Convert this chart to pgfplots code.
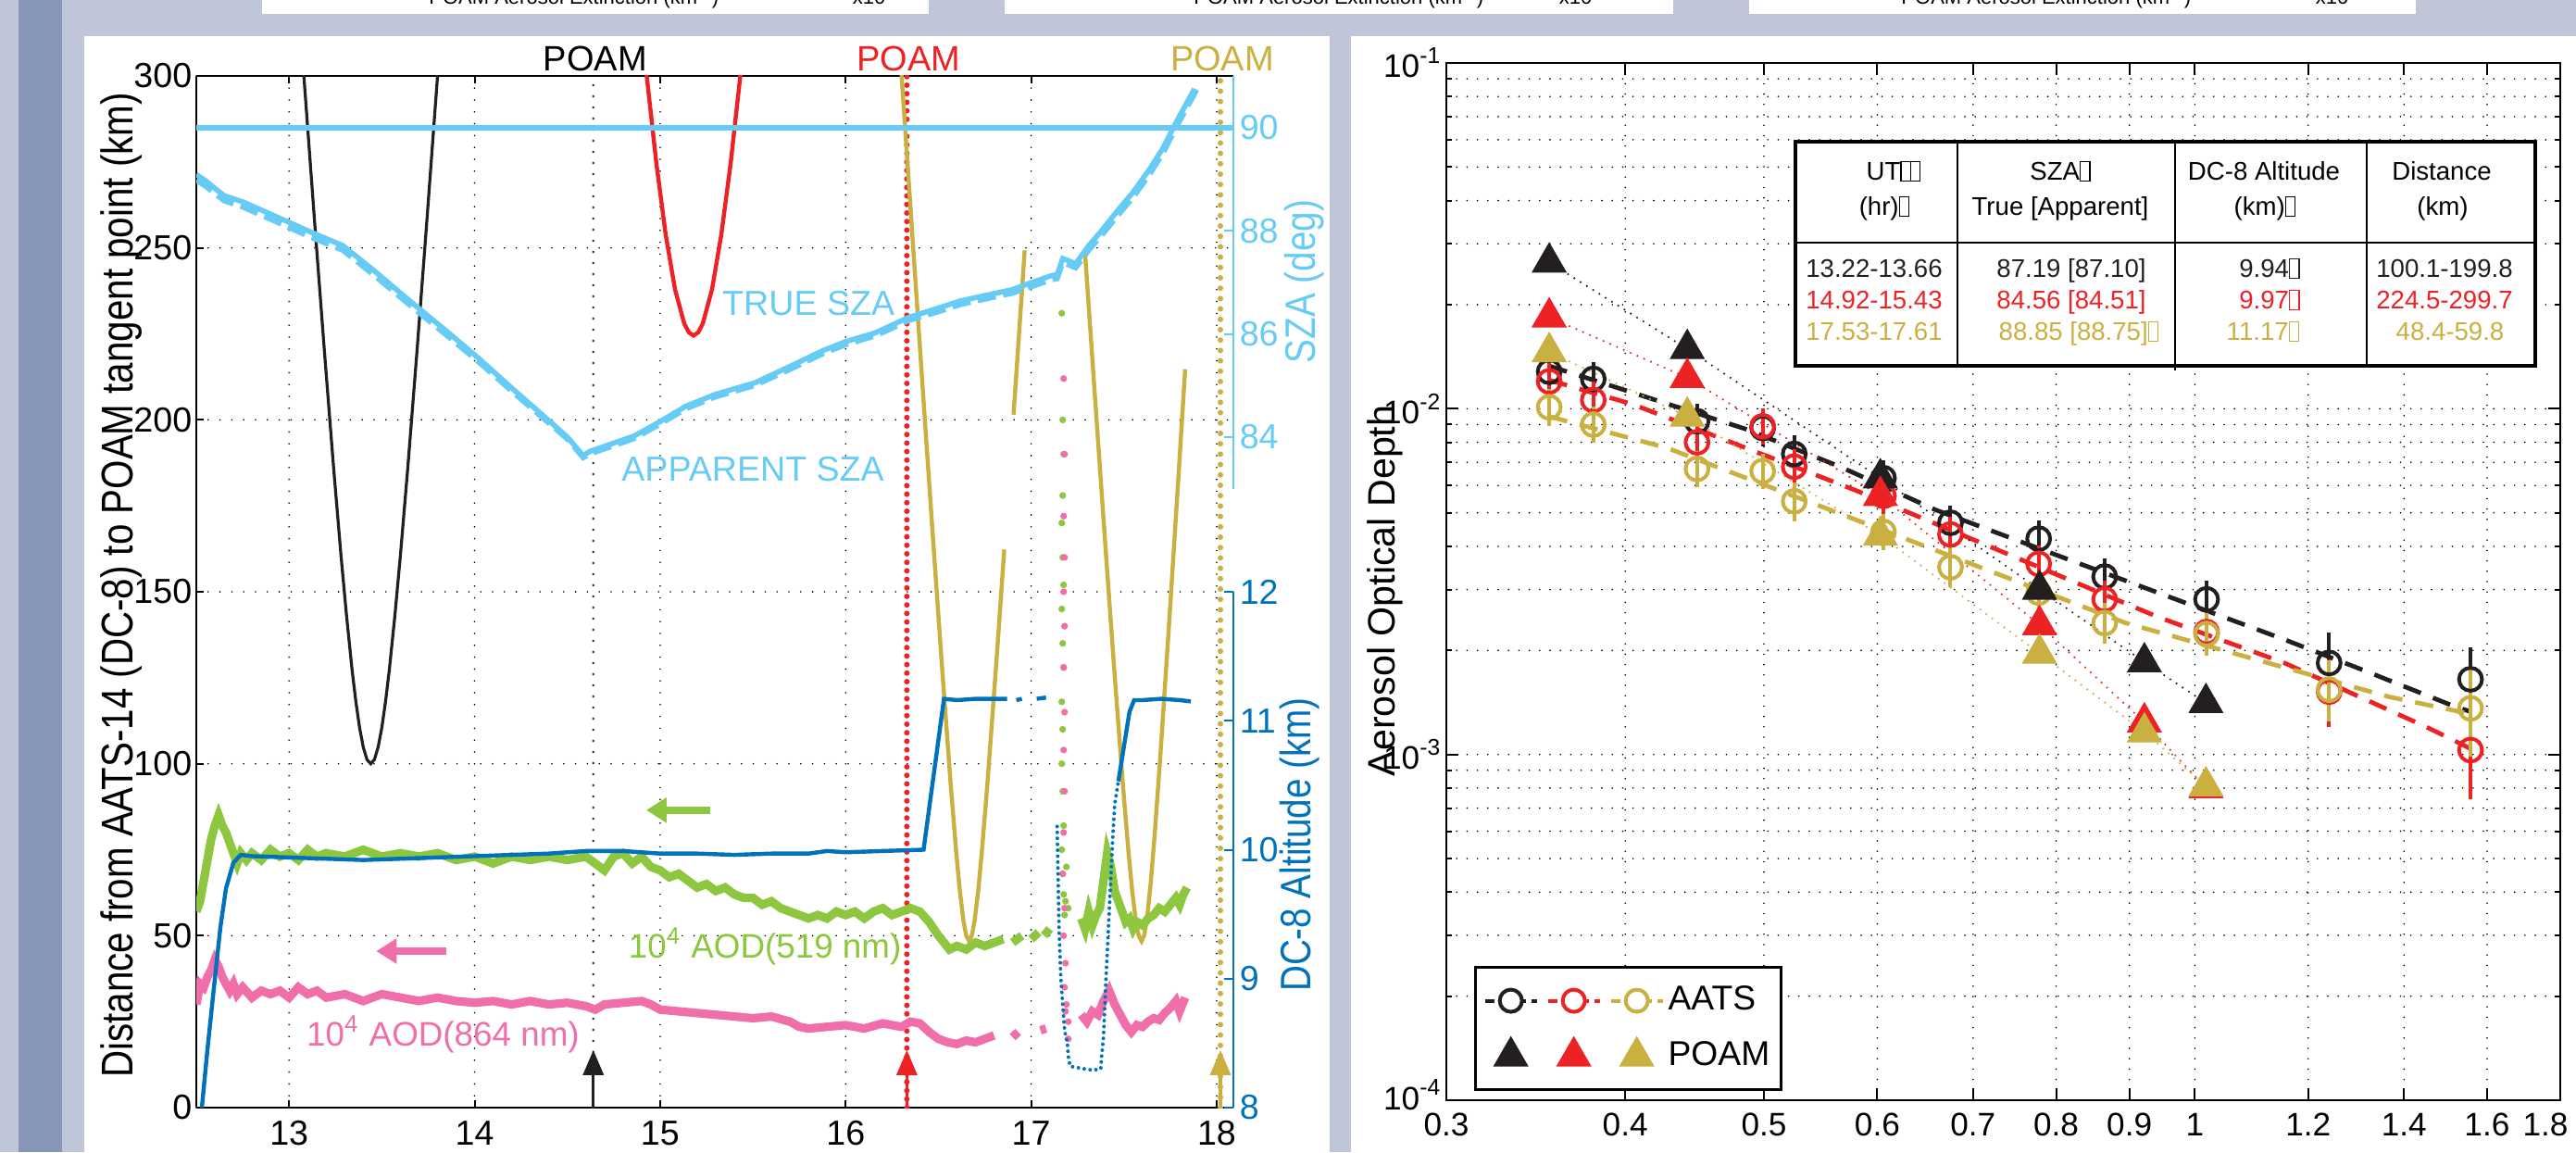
\documentclass[border=0pt]{standalone}
\usepackage{fontspec}
\setmainfont{Liberation Sans}
\newfontfamily\labfont{Liberation Sans}[FakeStretch=0.84]
\usepackage{pgfplots}
\pgfplotsset{compat=1.18}
\usetikzlibrary{arrows.meta}
\definecolor{cblk}{RGB}{35,31,32}
\definecolor{cred}{RGB}{237,34,36}
\definecolor{cgold}{RGB}{202,176,64}
\definecolor{clb}{RGB}{102,204,245}
\definecolor{calt}{RGB}{0,114,188}
\definecolor{cgrn}{RGB}{141,198,63}
\definecolor{cpnk}{RGB}{240,110,170}
\definecolor{bgc}{RGB}{191,198,215}
\definecolor{stripc}{RGB}{135,150,182}
\newcommand{\bx}{{\fboxsep=0pt\fboxrule=0.3pt\fbox{\rule{0pt}{5pt}\hspace{2.3pt}}}}
\begin{document}
\begin{tikzpicture}
\path[use as bounding box] (0,0) rectangle (695.5pt,311pt);
\clip (0,0) rectangle (695.5pt,311pt);
\fill[bgc] (0,0) rectangle (695.5pt,311pt);
\fill[stripc] (5pt,0) rectangle (16.75pt,311pt);
\fill[white] (22.75pt,0) rectangle (359pt,301.25pt);
\fill[white] (364.75pt,0) rectangle (695.5pt,301.25pt);
\fill[white] (70.75pt,307.25pt) rectangle (250.75pt,312pt);
\fill[white] (271.25pt,307.25pt) rectangle (451.75pt,312pt);
\fill[white] (472.25pt,307.25pt) rectangle (652.25pt,312pt);
\begin{scope}[font=\fontsize{5.5}{6}\selectfont]
\node[anchor=base east,inner sep=0] at (194.25pt,309.75pt) {POAM Aerosol Extinction (km\textsuperscript{-1})};
\node[anchor=base west,inner sep=0] at (230pt,309.75pt) {x10\textsuperscript{-4}};
\node[anchor=base east,inner sep=0] at (400.75pt,309.75pt) {POAM Aerosol Extinction (km\textsuperscript{-1})};
\node[anchor=base west,inner sep=0] at (420.75pt,309.75pt) {x10\textsuperscript{-4}};
\node[anchor=base east,inner sep=0] at (591.75pt,309.75pt) {POAM Aerosol Extinction (km\textsuperscript{-1})};
\node[anchor=base west,inner sep=0] at (625pt,309.75pt) {x10\textsuperscript{-4}};
\end{scope}

% ---------------- LEFT PANEL: main axis (distance) ----------------
\begin{axis}[
 at={(53pt,12pt)}, anchor=south west, scale only axis, width=280pt, height=278.5pt,
 xmin=12.5, xmax=18.09, ymin=0, ymax=300,
 axis x line*=box, axis y line*=left,
 axis line style={black, line width=0.6pt},
 xtick={13,14,15,16,17,18}, ytick={0,50,100,150,200,250,300},
 grid=major, grid style={black, line width=0.45pt, line cap=round, dash pattern=on 0pt off 3.2pt},
 tick style={black, line width=0.5pt}, major tick length=2pt,
 ticklabel style={font=\fontsize{9.4}{10}\selectfont},
 yticklabel style={inner xsep=1pt},
 /pgf/number format/assume math mode=true,
 clip mode=individual, unbounded coords=jump,
]
% vertical POAM lines
\addplot[cblk, line width=0.7pt, line cap=round, dash pattern=on 0pt off 3pt] coordinates {(14.64,0) (14.64,300)};
\addplot[cred, line width=1.5pt, line cap=round, dash pattern=on 0pt off 2.3pt] coordinates {(16.33,0) (16.33,300)};
\addplot[cgold, line width=1.5pt, line cap=round, dash pattern=on 0pt off 2.8pt] coordinates {(18.02,0) (18.02,300)};
% distance curves
\addplot[cblk, line width=0.8pt] coordinates {(13.07,307)(13.08,299.8)(13.14,255.9)(13.19,220.3)(13.24,186.1)(13.28,160.5)(13.31,142.9)(13.34,127.1)(13.36,118.1)(13.38,110.5)(13.40,104.8)(13.42,101.2)(13.44,100)(13.46,101.2)(13.48,104.8)(13.50,110.5)(13.52,118.1)(13.54,127.1)(13.57,142.9)(13.60,160.5)(13.64,186.1)(13.69,220.3)(13.74,255.9)(13.80,299.8)(13.81,307)};
\addplot[cred, line width=1.1pt] coordinates {(14.92,304)(14.93,298.9)(14.98,274.5)(15.03,253.9)(15.08,238)(15.13,228)(15.155,225.4)(15.18,224.5)(15.205,225.4)(15.23,228)(15.28,238)(15.33,253.9)(15.38,274.5)(15.43,298.9)(15.44,304)};
\addplot[cgold, line width=1.1pt] coordinates {(16.295,305.4)(16.305,297.4)(16.365,249.3)(16.415,209.4)(16.465,170.1)(16.515,131.5)(16.565,94.8)(16.595,74.9)(16.615,63.3)(16.635,54.3)(16.65,50.0)(16.665,48.5)(16.68,50.0)(16.695,54.3)(16.715,63.3)(16.735,74.9)(16.765,94.8)(16.815,131.5)(16.855,162.3)(16.88,nan)(16.905,201.5)(16.935,225.3)(16.965,249.3)};
\addplot[cgold, line width=1.1pt] coordinates {(17.29,248.8)(17.345,205.8)(17.395,167.2)(17.445,129.4)(17.495,93.5)(17.525,74.0)(17.545,62.8)(17.565,54.0)(17.58,49.9)(17.595,48.4)(17.61,50.2)(17.625,55.3)(17.645,65.7)(17.665,78.9)(17.695,101.3)(17.745,142)(17.795,184.5)(17.83,214.7)};
% AOD 519 (x 10^4)
\addplot[cgrn, line width=2.3pt] coordinates {(12.50,57)(12.52,60)(12.54,66)(12.56,72)(12.58,78)(12.60,82)(12.62,85)(12.64,82)(12.66,80)(12.68,77)(12.70,74)(12.72,71)(12.74,74)(12.77,72)(12.80,74)(12.85,72)(12.90,75)(12.95,73)(13.0,74)(13.05,72)(13.1,75)(13.15,73)(13.2,74)(13.3,73)(13.4,75)(13.5,73)(13.6,74)(13.7,73)(13.8,74)(13.9,72)(14.0,73)(14.1,71)(14.2,73)(14.3,72)(14.4,73)(14.5,72)(14.6,73)(14.65,71)(14.7,69)(14.75,73)(14.8,74)(14.85,71)(14.9,73)(14.95,70)(15.0,69)(15.05,67)(15.1,68)(15.15,66)(15.2,64)(15.25,65)(15.3,63)(15.35,64)(15.4,62)(15.45,61)(15.5,61)(15.55,59)(15.6,60)(15.65,58)(15.7,57)(15.75,56)(15.8,55)(15.85,56)(15.9,55)(15.95,57)(16.0,56)(16.05,57)(16.1,55)(16.15,57)(16.2,58)(16.25,56)(16.3,57)(16.35,58)(16.4,57)(16.45,54)(16.5,50)(16.53,48)(16.56,46)(16.6,47)(16.65,46)(16.7,48)(16.75,47)(16.8,48)(16.85,49)(16.87,nan)(16.9,48)(16.95,50)(16.97,nan)(17.0,49)(17.04,51)(17.05,nan)(17.07,50)(17.1,52)(17.2,nan)(17.27,55)(17.29,52)(17.31,57)(17.33,53)(17.35,56)(17.37,58)(17.39,66)(17.41,74)(17.43,70)(17.45,63)(17.47,60)(17.49,57)(17.51,54)(17.53,55)(17.55,52)(17.57,54)(17.6,53)(17.63,55)(17.66,56)(17.69,58)(17.72,57)(17.75,59)(17.78,61)(17.80,59)(17.82,62)(17.84,64)};
\addplot[cgrn, only marks, mark=*, mark size=0.7pt] coordinates {(17.165,231)(17.17,200)(17.175,190)(17.17,178)(17.165,170)(17.17,160)(17.175,152)(17.165,145)(17.17,135)(17.175,128)(17.165,118)(17.17,110)(17.165,100)(17.17,92)(17.175,82)(17.165,75)(17.17,68)(17.175,62)(17.18,56)(17.185,60)(17.2,58)(17.19,70)};
% AOD 864 (x 10^4)
\addplot[cpnk, line width=2.3pt] coordinates {(12.50,30)(12.52,36)(12.54,35)(12.56,38)(12.58,40)(12.6,43)(12.62,41)(12.64,38)(12.66,36)(12.68,34)(12.70,36)(12.72,33)(12.75,35)(12.8,32)(12.85,34)(12.9,33)(12.95,34)(13.0,32)(13.05,35)(13.1,33)(13.15,34)(13.2,32)(13.3,33)(13.4,31)(13.5,33)(13.6,32)(13.7,31)(13.8,32)(13.9,31)(14.0,30.5)(14.1,31)(14.2,30)(14.3,31)(14.4,30)(14.5,30.5)(14.6,29.5)(14.65,28.5)(14.7,30)(14.8,30.5)(14.9,31)(14.95,30)(15.0,28.5)(15.1,28)(15.2,27.5)(15.3,27)(15.4,26.5)(15.5,26)(15.6,26.5)(15.7,25)(15.75,23.5)(15.8,23)(15.9,23.5)(16.0,24)(16.1,23)(16.2,24.5)(16.3,23.5)(16.35,25)(16.4,24.5)(16.45,22)(16.5,20)(16.55,19)(16.6,18.5)(16.65,19.5)(16.7,19)(16.75,20)(16.8,21)(16.85,nan)(16.9,20.5)(16.93,22)(16.97,nan)(17.05,22.5)(17.08,23)(17.2,nan)(17.27,27)(17.3,25)(17.33,28)(17.36,27)(17.39,31)(17.42,34)(17.45,30)(17.48,27)(17.51,24)(17.54,22)(17.57,24)(17.6,23.5)(17.63,25)(17.66,26)(17.69,25.5)(17.72,27.5)(17.75,29)(17.78,31)(17.8,28)(17.83,32)};
\addplot[cpnk, only marks, mark=*, mark size=0.7pt] coordinates {(17.175,212)(17.18,190)(17.175,172)(17.18,160)(17.175,150)(17.18,140)(17.175,128)(17.18,115)(17.175,104)(17.18,92)(17.175,80)(17.17,68)(17.18,58)(17.175,50)(17.185,42)(17.18,35)(17.19,30)(17.2,25)(17.2,20)(17.185,28)};
% annotations
\node[anchor=base, font=\fontsize{9.5}{10}\selectfont] at (14.65,301.4) {POAM};
\node[anchor=base, font=\fontsize{9.5}{10}\selectfont, text=cred] at (16.34,301.4) {POAM};
\node[anchor=base, font=\fontsize{9.5}{10}\selectfont, text=cgold] at (18.03,301.4) {POAM};
\draw[cblk, line width=0.8pt, -{Triangle[width=5.5pt,length=6.7pt]}] (14.64,0) -- (14.64,16.7);
\draw[cred, line width=0.8pt, -{Triangle[width=5.5pt,length=6.7pt]}] (16.33,0) -- (16.33,16.7);
\draw[cgold, line width=0.8pt, -{Triangle[width=5.5pt,length=6.7pt]}] (18.02,0) -- (18.02,16.7);
\draw[cgrn, line width=2pt, -{Triangle[width=6.5pt,length=5.5pt]}] (15.27,86.5) -- (14.925,86.5);
\draw[cpnk, line width=2pt, -{Triangle[width=6.5pt,length=5.5pt]}] (13.85,45.5) -- (13.47,45.5);
\node[font=\fontsize{9.4}{10}\selectfont, text=clb] at (15.80,233.8) {TRUE SZA};
\node[font=\fontsize{9.4}{10}\selectfont, text=clb] at (15.50,185.8) {APPARENT SZA};
\node[font=\fontsize{9.2}{10}\selectfont, text=cgrn] at (15.565,46.9) {10\textsuperscript{4} AOD(519 nm)};
\node[font=\fontsize{9.2}{10}\selectfont, text=cpnk] at (13.83,21.3) {10\textsuperscript{4} AOD(864 nm)};
\end{axis}

% ---------------- LEFT PANEL: altitude overlay ----------------
\begin{axis}[
 at={(53pt,12pt)}, anchor=south west, scale only axis, width=280pt, height=278.5pt,
 xmin=12.5, xmax=18.09, ymin=8, ymax=16,
 hide x axis, axis y line*=right, y axis line style={draw=none},
 ytick={8,9,10,11,12}, ytick style={calt, line width=0.5pt}, major tick length=2.5pt,
 yticklabel style={text=calt, font=\fontsize{9.4}{10}\selectfont, inner xsep=1.5pt},
 /pgf/number format/assume math mode=true,
 clip mode=individual, unbounded coords=jump,
]
\addplot[calt, line width=1.1pt] coordinates {(12.53,8.0)(12.56,8.45)(12.6,9.0)(12.63,9.4)(12.66,9.7)(12.70,9.9)(12.74,9.96)(12.8,9.95)(13.0,9.94)(13.2,9.93)(13.4,9.92)(13.6,9.93)(13.8,9.94)(14.0,9.95)(14.2,9.96)(14.4,9.97)(14.6,9.99)(14.8,9.99)(15.0,9.97)(15.2,9.97)(15.4,9.96)(15.6,9.97)(15.8,9.97)(15.9,9.99)(16.0,9.98)(16.2,9.99)(16.42,10.0)(16.53,11.17)(16.6,11.16)(16.7,11.17)(16.8,11.17)(16.87,11.17)(16.9,nan)(16.92,11.16)(16.95,11.17)(16.99,nan)(17.03,11.17)(17.08,11.18)};
\addplot[calt, line width=1.1pt] coordinates {(17.47,10.53)(17.5,10.8)(17.53,11.07)(17.555,11.16)(17.6,11.16)(17.7,11.17)(17.8,11.16)(17.86,11.15)};
\addplot[calt, line width=1pt, line cap=round, dash pattern=on 0pt off 1.6pt] coordinates {(17.14,10.18)(17.145,9.8)(17.15,9.4)(17.16,9.0)(17.17,8.8)(17.18,8.6)(17.195,8.5)(17.2,8.4)(17.21,8.32)(17.25,8.31)(17.29,8.30)(17.33,8.29)(17.375,8.3)(17.38,8.4)(17.39,8.55)(17.40,8.9)(17.41,9.2)(17.42,9.5)(17.43,9.8)(17.44,10.1)(17.45,10.35)(17.47,10.53)};
\draw[calt, line width=0.6pt] (18.09,8) -- (18.09,12);
\end{axis}

% ---------------- LEFT PANEL: SZA overlay ----------------
\begin{axis}[
 at={(53pt,12pt)}, anchor=south west, scale only axis, width=280pt, height=278.5pt,
 xmin=12.5, xmax=18.09, ymin=71, ymax=91,
 hide x axis, axis y line*=right, y axis line style={draw=none},
 ytick={84,86,88,90}, ytick style={clb, line width=0.5pt}, major tick length=2.5pt,
 yticklabel style={text=clb, font=\fontsize{9.4}{10}\selectfont, inner xsep=1.5pt},
 /pgf/number format/assume math mode=true,
 clip mode=individual,
]
\addplot[clb, line width=1.5pt] coordinates {(12.5,90) (18.09,90)};
\addplot[clb, line width=1.4pt, dash pattern=on 5pt off 2pt] coordinates {(12.5,88.98)(12.55,88.86)(12.6,88.72)(12.65,88.58)(12.75,88.46)(12.92,88.19)(13.1,87.9)(13.29,87.62)(13.45,87.16)(13.66,86.53)(13.85,85.97)(14.03,85.43)(14.2,84.89)(14.4,84.27)(14.5,83.96)(14.585,83.6)(14.62,83.67)(14.7,83.77)(14.86,83.97)(15.0,84.25)(15.14,84.55)(15.3,84.78)(15.51,85.0)(15.7,85.31)(15.88,85.62)(16.0,85.79)(16.16,85.96)(16.34,86.26)(16.5,86.43)(16.62,86.57)(16.76,86.68)(16.9,86.79)(16.99,86.9)(17.11,87.05)(17.14,87.07)(17.17,87.38)(17.2,87.34)(17.24,87.28)(17.31,87.62)(17.38,87.91)(17.45,88.22)(17.55,88.65)(17.64,89.1)(17.71,89.5)(17.78,89.99)(17.88,90.65)(17.9,90.8)};
\addplot[clb, line width=1.4pt] coordinates {(12.5,89.09)(12.55,88.97)(12.6,88.82)(12.65,88.68)(12.75,88.56)(12.92,88.29)(13.1,88.0)(13.29,87.71)(13.45,87.25)(13.66,86.61)(13.85,86.05)(14.03,85.5)(14.2,84.95)(14.4,84.32)(14.5,84.0)(14.585,83.64)(14.62,83.72)(14.7,83.82)(14.86,84.02)(15.0,84.3)(15.14,84.6)(15.3,84.83)(15.51,85.05)(15.7,85.37)(15.88,85.68)(16.0,85.85)(16.16,86.02)(16.34,86.32)(16.5,86.5)(16.62,86.64)(16.76,86.75)(16.9,86.86)(16.99,86.98)(17.11,87.13)(17.14,87.15)(17.17,87.46)(17.2,87.42)(17.24,87.36)(17.31,87.71)(17.38,88.0)(17.45,88.32)(17.55,88.75)(17.64,89.2)(17.71,89.6)(17.78,90.09)(17.88,90.75)};
\draw[clb, line width=0.6pt] (18.09,83) -- (18.09,91);
\end{axis}

% left panel axis labels
\node[rotate=90, anchor=base, font=\labfont\fontsize{12}{14}\selectfont] at (35.75pt,153pt) {Distance from AATS-14 (DC-8) to POAM tangent point (km)};
\node[rotate=90, anchor=base, text=clb, font=\labfont\fontsize{11.5}{13}\selectfont] at (355pt,235pt) {SZA (deg)};
\node[rotate=90, anchor=base, text=calt, font=\labfont\fontsize{11.5}{13}\selectfont] at (353.75pt,83pt) {DC-8 Altitude (km)};

% ---------------- RIGHT PANEL ----------------
\pgfplotsset{
  aatsleg/.style={legend image code/.code={\draw[line width=1pt, dash pattern=on 2.6pt off 1.6pt] (0pt,0pt) -- (14pt,0pt); \draw[line width=1pt, solid, fill=white] (7pt,0pt) circle[radius=3pt];}},
  aats/.style={only marks, mark=o, mark size=3.1pt, line width=1pt,
    error bars/.cd, y dir=both, y explicit, error mark options={mark size=3pt, line width=1pt}, error bar style={line width=1pt}},
  poam/.style={only marks, mark=triangle*, mark size=5.2pt, line width=0.3pt,
    legend image code/.code={\draw plot[mark=triangle*] coordinates {(7pt,0pt)};}}}
\begin{axis}[
 at={(390.5pt,14pt)}, anchor=south west, scale only axis, width=300.75pt, height=280pt,
 xmode=log, ymode=log, xmin=0.3, xmax=1.8, ymin=1e-4, ymax=1e-1,
 axis line style={black, line width=0.7pt},
 xtick={0.3,0.4,0.5,0.6,0.7,0.8,0.9,1,1.2,1.4,1.6,1.8},
 xticklabels={0.3,0.4,0.5,0.6,0.7,0.8,0.9,1,1.2,1.4,1.6,\kern-8pt 1.8},
 xminorticks=false,
 ytick={1e-4,1e-3,1e-2,1e-1},
 yticklabels={\raisebox{3pt}{10\textsuperscript{-4}},10\textsuperscript{-3},10\textsuperscript{-2},10\textsuperscript{-1}},
 minor ytick={2e-4,3e-4,4e-4,5e-4,6e-4,7e-4,8e-4,9e-4,2e-3,3e-3,4e-3,5e-3,6e-3,7e-3,8e-3,9e-3,2e-2,3e-2,4e-2,5e-2,6e-2,7e-2,8e-2,9e-2},
 xmajorgrids, ymajorgrids, yminorgrids,
 major grid style={black, line width=0.45pt, line cap=round, dash pattern=on 0pt off 2.8pt},
 minor grid style={black, line width=0.45pt, line cap=round, dash pattern=on 0pt off 2.8pt},
 tick style={black, line width=0.5pt}, major tick length=3.2pt, minor tick length=1.6pt,
 ticklabel style={font=\fontsize{8.8}{10}\selectfont},
 yticklabel style={inner xsep=1pt},
 xlabel={Wavelength [microns]},
 xlabel style={font=\fontsize{10}{12}\selectfont},
 legend columns=3,
 legend cell align=left,
 legend style={at={(0.025,0.1295)}, anchor=north west, draw=black, line width=0.8pt, fill=white,
   font=\fontsize{9.3}{10}\selectfont, inner xsep=2pt, inner ysep=3pt, row sep=3pt,
   nodes={inner xsep=1pt}},
 clip=false,
]
% fits (AATS)
\addplot[cblk, line width=1.2pt, dash pattern=on 5pt off 3.5pt, forget plot] coordinates {(0.354,0.0133)(0.403,0.0112)(0.485,0.00875)(0.566,0.00678)(0.659,0.00510)(0.830,0.00357)(0.942,0.00294)(1.155,0.00215)(1.313,0.00175)(1.51,0.00139)(1.558,0.00133)};
\addplot[cred, line width=1.2pt, dash pattern=on 5pt off 3.5pt, forget plot] coordinates {(0.354,0.0121)(0.405,0.0103)(0.58,0.0058)(0.942,0.0025)(1.155,0.00184)(1.452,0.0012)(1.558,0.00104)};
\addplot[cgold, line width=1.2pt, dash pattern=on 5pt off 3.5pt, forget plot] coordinates {(0.354,0.0095)(0.428,0.0077)(0.552,0.00516)(0.895,0.0024)(1.365,0.00147)(1.558,0.00131)};
% POAM dotted lines
\addplot[cblk, line width=0.6pt, line cap=round, dash pattern=on 0pt off 2pt, forget plot] coordinates {(0.354,0.0265)(0.442,0.0149)(0.603,0.0063)(0.779,0.0030)(0.922,0.00185)(1.018,0.00141)};
\addplot[cred, line width=0.6pt, line cap=round, dash pattern=on 0pt off 2pt, forget plot] coordinates {(0.354,0.0184)(0.442,0.0123)(0.603,0.0056)(0.779,0.00237)(0.922,0.00124)(1.018,0.00080)};
\addplot[cgold, line width=0.6pt, line cap=round, dash pattern=on 0pt off 2pt, forget plot] coordinates {(0.354,0.0146)(0.442,0.0095)(0.603,0.0043)(0.779,0.00196)(0.922,0.00116)(1.018,0.00081)};
% AATS circles with error bars
\addplot[cblk, aatsleg, aats] coordinates {(0.354,0.0128) +- (0,0.0006) (0.380,0.0122) +- (0,0.0005) (0.449,0.0092) +- (0,0.0004) (0.499,0.0088) +- (0,0.0004) (0.525,0.0074) +- (0,0.0004) (0.606,0.0063) +- (0,0.0003) (0.675,0.00468) +- (0,0.0002) (0.778,0.00421) +- (0,0.0002) (0.865,0.00327) +- (0,0.00015) (1.019,0.00281) +- (0,0.00015) (1.241,0.00184) +- (0,0.00025) (1.558,0.00165) +- (0,0.00025)};
\addlegendentry{}
\addplot[cred, aatsleg, aats] coordinates {(0.354,0.0120) +- (0,0.0006) (0.380,0.0106) +- (0,0.0005) (0.449,0.0080) +- (0,0.0004) (0.499,0.0089) +- (0,0.0004) (0.525,0.0068) +- (0,0.0003) (0.606,0.0056) +- (0,0.0003) (0.675,0.00433) +- (0,0.0002) (0.778,0.00356) +- (0,0.00018) (0.865,0.00281) +- (0,0.00015) (1.019,0.00226) +- (0,0.00015) (1.241,0.00152) +- (0,0.00023) (1.558,0.00103) +- (0,0.00023)};
\addlegendentry{}
\addplot[cgold, aatsleg, aats] coordinates {(0.354,0.0101) +- (0,0.0005) (0.380,0.0090) +- (0,0.0004) (0.449,0.0067) +- (0,0.0003) (0.499,0.0066) +- (0,0.0003) (0.525,0.0054) +- (0,0.0003) (0.606,0.0044) +- (0,0.0002) (0.675,0.00348) +- (0,0.0002) (0.778,0.00294) +- (0,0.00018) (0.865,0.00240) +- (0,0.00015) (1.019,0.00223) +- (0,0.00015) (1.241,0.00154) +- (0,0.0002) (1.558,0.00136) +- (0,0.0003)};
\addlegendentry{AATS}
% POAM triangles
\addplot[cblk, fill=cblk, poam] coordinates {(0.354,0.0265)(0.442,0.0149)(0.603,0.0063)(0.779,0.0030)(0.922,0.00185)(1.018,0.00141)};
\addlegendentry{}
\addplot[cred, fill=cred, poam] coordinates {(0.354,0.0184)(0.442,0.0123)(0.603,0.0056)(0.779,0.00237)(0.922,0.00124)(1.018,0.00080)};
\addlegendentry{}
\addplot[cgold, fill=cgold, poam] coordinates {(0.354,0.0146)(0.442,0.0095)(0.603,0.0043)(0.779,0.00196)(0.922,0.00116)(1.018,0.00081)};
\addlegendentry{POAM}
\end{axis}
\node[rotate=90, anchor=base, font=\fontsize{10.3}{12}\selectfont] at (376.5pt,151.5pt) {Aerosol Optical Depth};

% table
\fill[white] (484.75pt,212.25pt) rectangle (684.5pt,272.75pt);
\draw[black, line width=0.9pt] (484.75pt,212.25pt) rectangle (684.5pt,272.75pt);
\draw[black, line width=0.6pt] (484.75pt,245.5pt) -- (684.5pt,245.5pt);
\draw[black, line width=0.5pt] (528.5pt,212.25pt) -- (528.5pt,272.75pt);
\draw[black, line width=0.5pt] (587.25pt,211pt) -- (587.25pt,272.75pt);
\draw[black, line width=0.5pt] (639pt,212.25pt) -- (639pt,272.75pt);
\begin{scope}[every node/.style={anchor=base, inner sep=0pt, font=\fontsize{6.9}{8}\selectfont}]
\node at (511.25pt,262.25pt) {UT\bx\kern-0.3pt\bx};
\node at (508.75pt,252.75pt) {(hr)\bx};
\node at (556.25pt,262.25pt) {SZA\bx};
\node at (556.25pt,252.75pt) {True [Apparent]};
\node at (611.25pt,262.25pt) {DC-8 Altitude};
\node at (611.5pt,252.75pt) {(km)\bx};
\node at (659.25pt,262.25pt) {Distance};
\node at (659.5pt,252.75pt) {(km)};
\node[text=cblk] at (506pt,236pt) {13.22-13.66};
\node[text=cred] at (506pt,227.5pt) {14.92-15.43};
\node[text=cgold] at (506pt,219pt) {17.53-17.61};
\node[text=cblk] at (559.25pt,236pt) {87.19 [87.10]};
\node[text=cred] at (559.25pt,227.5pt) {84.56 [84.51]};
\node[text=cgold] at (561.25pt,219pt) {88.85 [88.75]\bx};
\node[text=cblk] at (612.75pt,236pt) {9.94\bx};
\node[text=cred] at (612.75pt,227.5pt) {9.97\bx};
\node[text=cgold] at (611pt,219pt) {11.17\bx};
\node[text=cblk] at (660pt,236pt) {100.1-199.8};
\node[text=cred] at (660pt,227.5pt) {224.5-299.7};
\node[text=cgold] at (661.5pt,219pt) {48.4-59.8};
\end{scope}
\end{tikzpicture}
\end{document}
